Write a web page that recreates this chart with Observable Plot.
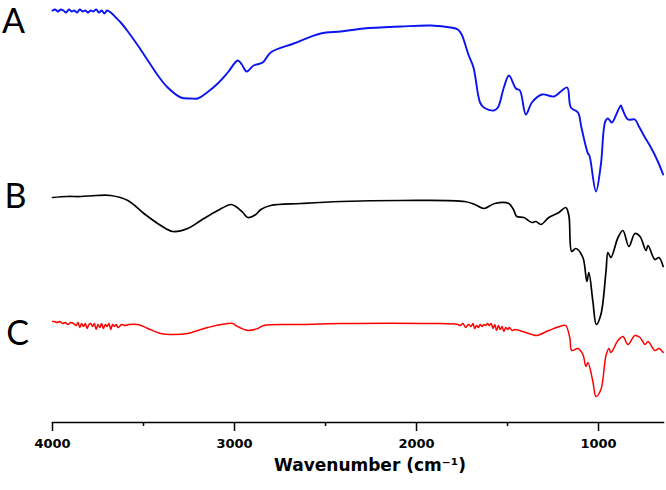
<!DOCTYPE html>
<html>
<head>
<meta charset="utf-8">
<script src="https://cdn.jsdelivr.net/npm/d3@7"></script>
<script src="https://cdn.jsdelivr.net/npm/@observablehq/plot@0.6"></script>
<style>
  html, body { margin: 0; padding: 0; background: #fff; }
  #chart svg { display: block; }
</style>
</head>
<body>
<div id="chart"></div>
<script>
// ---- Data (intensity in arbitrary units, offset per trace) ----
const wavenumberA = [4000,3985,3970,3955,3940,3925,3910,3895,3880,3865,3850,3835,3820,3805,3790,3775,3760,3745,3730,3715,3700,3680,3652,3625,3590,3531,3476,3421,3367,3295,3240,3202,3158,3092,3037,2982,2960,2933,2895,2845,2801,2675,2526,2416,2290,2086,1922,1812,1773,1752,1715,1687,1651,1630,1575,1553,1520,1492,1454,1432,1399,1366,1311,1245,1207,1172,1152,1113,1094,1058,1050,1014,987,963,948,929,921,877,870,838,800,778,745,712,674,645];
const valueA      = [420,421,419,421,420,418,421,419,420,418,421,419,420,418,420,419,421,418,420,417,420,418,413,408,400,385,370,355,343,333,332,332,337,347,358,370,366,359,365,368,378,387,397,399,402,404,405,403,401,396,376,363,328,323,320,323,343,355,342,340,316,328,336,334,339,343,323,318,303,277,275,239,266,309,312,308,309,325,322,311,311,304,293,283,269,256];

const wavenumberB = [4000,3920,3845,3760,3680,3586,3498,3405,3339,3257,3185,3092,3020,2993,2954,2927,2883,2855,2801,2636,2416,2086,1735,1680,1630,1570,1493,1465,1449,1410,1366,1344,1317,1273,1218,1180,1163,1147,1125,1086,1064,1053,1031,1012,987,959,948,932,893,866,833,800,772,739,728,690,668,645];
const valueB      = [233,234,234,235,235,230,217,205,199,202,210,220,226,224,218,213,216,221,225,227,229,230,229,226,222,227,227,220,214,213,208,209,206,213,218,223,215,179,182,173,149,158,129,106,116,159,178,173,193,200,184,197,194,180,185,171,173,164];

const wavenumberC = [4000,3990,3975,3960,3945,3930,3915,3900,3885,3870,3860,3850,3840,3830,3820,3810,3800,3790,3780,3770,3760,3750,3740,3730,3720,3710,3700,3690,3680,3670,3660,3650,3640,3620,3600,3580,3531,3476,3405,3333,3257,3147,3009,2993,2927,2872,2839,2636,2416,1916,1773,1760,1745,1730,1715,1700,1690,1680,1670,1660,1650,1640,1630,1620,1610,1600,1590,1580,1570,1560,1550,1540,1530,1520,1510,1500,1490,1475,1460,1366,1339,1273,1196,1180,1158,1147,1113,1086,1069,1058,1031,1014,987,959,943,932,893,866,838,800,772,745,728,690,668,645];
const valueC      = [109,109,108,109,107,108,106,108,107,105,108,103,107,104,107,102,106,107,104,107,101,106,103,107,102,106,104,107,101,106,104,106,103,106,105,106,106,102,97,96,97,103,107,105,100,102,105,106,107,107,106,105,107,103,106,104,107,102,105,103,106,104,106,105,107,105,107,102,106,100,105,101,104,99,103,101,103,100,101,96,95,100,105,105,93,80,82,76,64,68,49,34,41,75,82,78,90,94,86,95,93,86,89,80,82,78];

const seriesLabels = ["A", "B", "C"];
const seriesColors = ["#0a14f0", "#000000", "#ff0000"];
const majorTicks = [4000, 3000, 2000, 1000];
const minorTicks = [3500, 2500, 1500];
const axisTitle = "Wavenumber (cm⁻¹)";

// ---- Build tables ----
const toRows = (w, v) => w.map((wn, i) => ({ wn, v: v[i] }));
const rowsA = toRows(wavenumberA, valueA);
const rowsB = toRows(wavenumberB, valueB);
const rowsC = toRows(wavenumberC, valueC);

const tickFont = { fontFamily: "DejaVu Sans", fontWeight: "bold", fontSize: 13 };
const lineOpts = { x: "wn", y: "v", strokeLinejoin: "round", curve: "catmull-rom" };

const chart = Plot.plot({
  width: 666,
  height: 490,
  marginLeft: 52,
  marginRight: 3,
  marginTop: 0,
  marginBottom: 68,
  style: { background: "#fff", color: "#000", overflow: "visible" },
  x: { domain: [4000, 643] },
  y: { domain: [0, 430], range: [430, 0], axis: null },
  marks: [
    Plot.line(rowsA, { ...lineOpts, stroke: seriesColors[0], strokeWidth: 1.9 }),
    Plot.line(rowsB, { ...lineOpts, stroke: seriesColors[1], strokeWidth: 1.7 }),
    Plot.line(rowsC, { ...lineOpts, stroke: seriesColors[2], strokeWidth: 1.5 }),
    Plot.frame({ anchor: "bottom", stroke: "#000", strokeWidth: 1.5 }),
    Plot.axisX({ ticks: majorTicks, tickSize: 9, tickPadding: 7, strokeWidth: 1.5,
      tickFormat: d => String(d), label: null, ...tickFont }),
    Plot.axisX({ ticks: minorTicks, tickSize: 4, strokeWidth: 1.5, tickFormat: () => "", label: null }),
    Plot.text([axisTitle], { frameAnchor: "bottom", dx: 12, dy: 48, fontSize: 17,
      fontWeight: "bold", fontFamily: "DejaVu Sans", fill: "#000" }),
    Plot.text([rowsA[0]], { x: "wn", y: "v", text: () => seriesLabels[0], dx: -39, dy: 12,
      fontSize: 34, fontFamily: "Lato", fill: "#000" }),
    Plot.text([rowsB[0]], { x: "wn", y: "v", text: () => seriesLabels[1], dx: -37, dy: 0,
      fontSize: 34, fontFamily: "Lato", fill: "#000" }),
    Plot.text([rowsC[0]], { x: "wn", y: "v", text: () => seriesLabels[2], dx: -35, dy: 13,
      fontSize: 34, fontFamily: "Lato", fill: "#000" })
  ]
});
document.getElementById("chart").appendChild(chart);
</script>
</body>
</html>
